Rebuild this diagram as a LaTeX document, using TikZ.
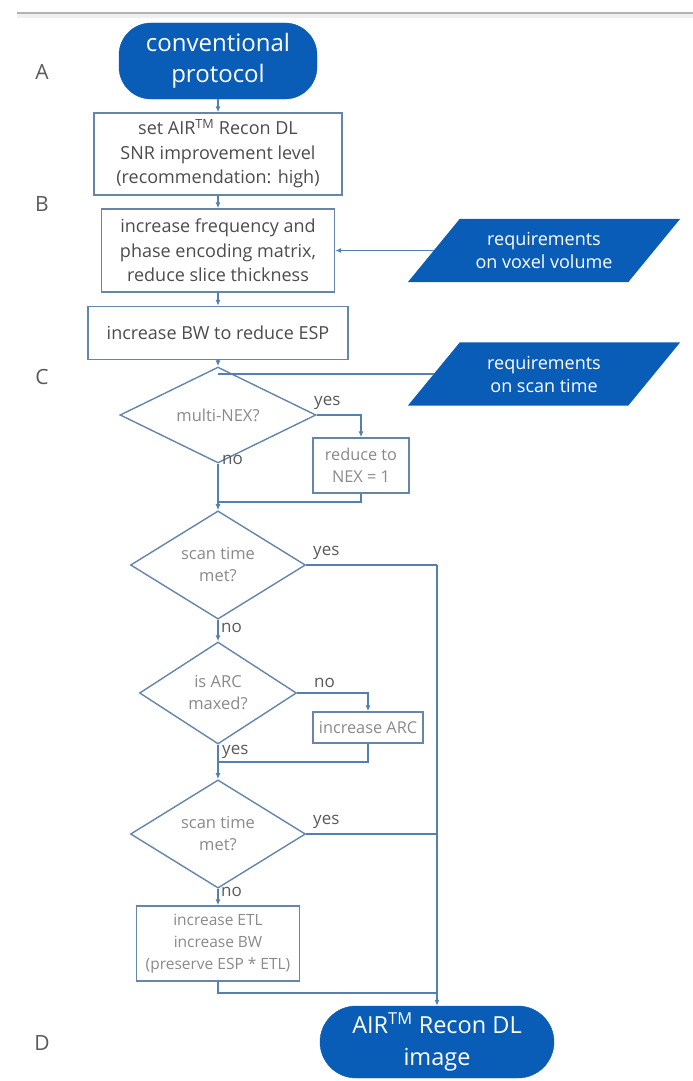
\documentclass[tikz,border=0pt]{standalone}
\usepackage{fontspec}
\setmainfont{Open Sans}
\usetikzlibrary{arrows.meta,calc,backgrounds,shapes.geometric}
\definecolor{fillblue}{HTML}{0A5DB6}
\definecolor{edgeblue}{HTML}{6585AA}
\definecolor{lineblue}{HTML}{5380AE}
\definecolor{txtdark}{HTML}{4C4C4C}
\definecolor{txtlight}{HTML}{8A8A8A}
\definecolor{lblgray}{HTML}{5A5A5A}
\begin{document}
\begin{tikzpicture}[x=1pt,y=-1pt,
  term/.style={draw=fillblue,fill=fillblue,text=white,rounded corners=32pt,align=center,
    font=\fontsize{24}{31}\selectfont,inner sep=0pt},
  pbox/.style={draw=edgeblue,line width=1.4pt,fill=white,align=center,inner sep=0pt,
    font=\fontsize{18}{24.5}\selectfont,text=txtdark},
  lbox/.style={pbox,text=txtlight,font=\fontsize{16.3}{22}\selectfont},
  dec/.style={diamond,draw=edgeblue,line width=1.4pt,fill=white,align=center,inner sep=0pt,
    font=\fontsize{16.5}{22}\selectfont,text=txtlight},
  para/.style={rectangle,text=white,align=center,inner sep=0pt,
    minimum width=220pt,minimum height=63pt,font=\fontsize{18}{23}\selectfont},
  conn/.style={draw=lineblue,line width=1.4pt},
  arr/.style={conn,-{Latex[length=6pt,width=5pt]}},
  yn/.style={anchor=west,inner sep=0pt,text=lblgray,font=\fontsize{17}{20}\selectfont},
  sect/.style={text=lblgray,font=\fontsize{21}{24}\selectfont,inner sep=0pt}
]
\useasboundingbox (0,0) rectangle (693,1081);
% top shadow line
\fill[gray!12] (17,12) rectangle (693,18);
\draw[gray!60,line width=2pt] (17,13) -- (693,13);

% section letters
\node[sect] (lA) at (42,72) {A};
\node[sect] (lB) at (42,204) {B};
\node[sect] (lC) at (42,377) {C};
\node[sect] (lD) at (42,1043) {D};

% nodes
\node[term,minimum width=198pt,minimum height=76pt] (start) at (218,61) {conventional\\protocol};
\node[pbox,minimum width=248pt,minimum height=82pt] (b1) at (218,154)
  {set AIR\textsuperscript{TM} Recon DL\\SNR improvement level\\(recommendation: high)};
\node[pbox,minimum width=233pt,minimum height=83pt] (b2) at (218,250.5)
  {increase frequency and\\phase encoding matrix,\\reduce slice thickness};
\node[pbox,minimum width=260pt,minimum height=53pt] (b3) at (218,333)
  {increase BW to reduce ESP};
\node[para] (vox) at (544,250.5) {requirements\\on voxel volume};
\node[para] (scan) at (544,374) {requirements\\on scan time};
\begin{scope}[on background layer]
  \foreach \p in {vox,scan}{
    \fill[fillblue] ($(\p.north west)+(26,0)$) -- ($(\p.north east)+(26,0)$)
      -- ($(\p.south east)+(-26,0)$) -- ($(\p.south west)+(-26,0)$) -- cycle;
  }
\end{scope}

\node[dec,minimum width=196pt,minimum height=64pt] (d1) at (218,415) {multi-NEX?};
\node[lbox,minimum width=96pt,minimum height=55pt] (nex) at (361,465.5) {reduce to\\NEX = 1};
\node[dec,minimum width=175pt,minimum height=105pt] (d2) at (218,565) {scan time\\met?};
\node[dec,minimum width=157pt,minimum height=102pt] (d3) at (218,693) {is ARC\\maxed?};
\node[lbox,minimum width=110pt,minimum height=31pt] (arc) at (368,727.5) {increase ARC};
\node[dec,minimum width=175pt,minimum height=105pt] (d4) at (218,834) {scan time\\met?};
\node[lbox,minimum width=163pt,minimum height=75pt,font=\fontsize{15.5}{22}\selectfont] (etl) at (218,943.5)
  {increase ETL\\increase BW\\(preserve ESP * ETL)};
\node[term,minimum width=234pt,minimum height=72pt,rounded corners=36pt,
  font=\fontsize{23.5}{32}\selectfont] (end) at (437,1042) {AIR\textsuperscript{TM} Recon DL\\image};

% junction coordinates
\coordinate (jC) at (218,374);
\coordinate (j1) at (218,502);
\coordinate (j2) at (218,762);
\coordinate (r2) at (437,565);
\coordinate (r4) at (437,834);
\coordinate (r5) at (437,993);
\coordinate (e1) at (218,993);

% connectors
\draw[arr] (start) -- (b1);
\draw[arr] (b1) -- (b2);
\draw[arr] (b2) -- (b3);
\draw[arr] (vox.west) -- (vox.west -| b2.east);
\draw[conn] (scan.west) -- (jC);
\draw[arr] (b3) -- (d1);
\draw[arr] (d1.east) -| (nex.north);
\draw[arr] (d1.south) -- (d2.north);
\draw[conn] (nex.south) |- (j1);
\draw[conn] (d2.east) -- (r2);
\draw[arr] (r2) -- (end.north);
\draw[arr] (d2.south) -- (d3.north);
\draw[arr] (d3.east) -| (arc.north);
\draw[arr] (d3.south) -- (d4.north);
\draw[conn] (arc.south) |- (j2);
\draw[conn] (d4.east) -- (r4);
\draw[arr] (d4.south) -- (etl.north);
\draw[conn] (etl.south) -- (e1) -- (r5);

% labels
\node[yn] (y1) at (314,403) {yes};
\node[yn] (n1) at (222,460) {no};
\node[yn] (y2) at (313,553) {yes};
\node[yn] (n2) at (221,628) {no};
\node[yn] (n3) at (314,683) {no};
\node[yn] (y3) at (222,752) {yes};
\node[yn] (y4) at (313,822) {yes};
\node[yn] (n4) at (221,892) {no};
\end{tikzpicture}
\end{document}
